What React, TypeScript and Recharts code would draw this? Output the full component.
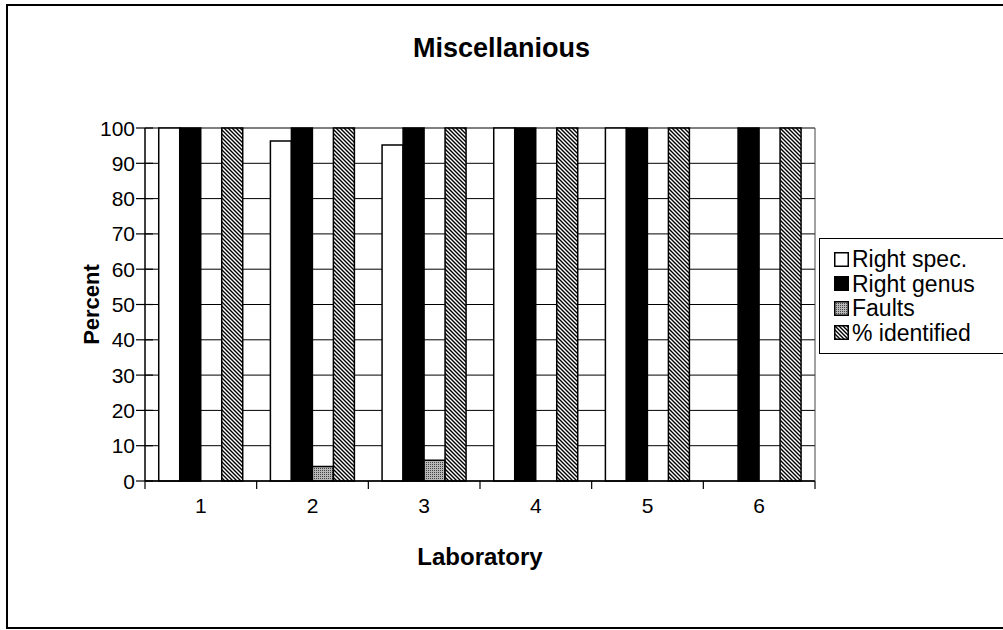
import { BarChart, Bar, XAxis, YAxis, CartesianGrid, Legend } from "recharts";

const labs = ["1", "2", "3", "4", "5", "6"];
const rightSpec = [100, 96.3, 95.2, 100, 100, 0];
const rightGenus = [100, 100, 100, 100, 100, 100];
const faults = [0, 4.1, 5.9, 0, 0, 0];
const identified = [100, 100, 100, 100, 100, 100];
const yTicks = [0, 10, 20, 30, 40, 50, 60, 70, 80, 90, 100];

const data = labs.map((lab, i) => ({
  lab,
  spec: rightSpec[i],
  genus: rightGenus[i],
  faults: faults[i],
  identified: identified[i],
}));

const FONT = "'Liberation Sans', Arial, sans-serif";
const PLOT_W = 670;
const BAND = PLOT_W / labs.length;

const legendItems = [
  { name: "Right spec.", fill: "#fff" },
  { name: "Right genus", fill: "#000" },
  { name: "Faults", fill: "url(#stipple)" },
  { name: "% identified", fill: "url(#hatch)" },
];

function YTick({ x, y, payload }: any) {
  return (
    <g>
      <line x1={x - 9} x2={x + 8} y1={y} y2={y} stroke="#000" strokeWidth={1.2} />
      <text x={x - 10} y={y} dy={7.5} textAnchor="end" fontSize={21} fontFamily={FONT} fill="#000">
        {payload.value}
      </text>
    </g>
  );
}

function XTick({ x, y, payload, index }: any) {
  return (
    <g>
      <line x1={x - BAND / 2} x2={x - BAND / 2} y1={y} y2={y + 8} stroke="#000" strokeWidth={1.2} />
      {index === labs.length - 1 && (
        <line x1={x + BAND / 2} x2={x + BAND / 2} y1={y} y2={y + 8} stroke="#000" strokeWidth={1.2} />
      )}
      <text x={x} y={y + 32} textAnchor="middle" fontSize={21} fontFamily={FONT} fill="#000">
        {payload.value}
      </text>
    </g>
  );
}

function renderLegend() {
  return (
    <div
      style={{
        border: "1px solid #000",
        padding: "8px 0 8px 14px",
        fontFamily: FONT,
        fontSize: 23,
        lineHeight: "24.5px",
        background: "#fff",
      }}
    >
      {legendItems.map((it) => (
        <div key={it.name} style={{ display: "flex", alignItems: "center", whiteSpace: "nowrap" }}>
          <svg width={15} height={15} style={{ marginRight: 3 }}>
            <rect x={0.75} y={0.75} width={13.5} height={13.5} fill={it.fill} stroke="#000" strokeWidth={1.5} />
          </svg>
          {it.name}
        </div>
      ))}
    </div>
  );
}

export default function App() {
  return (
    <div
      style={{
        position: "absolute",
        left: 0,
        top: 0,
        width: 1003,
        height: 630,
        overflow: "hidden",
        background: "#fff",
      }}
    >
      <div
        style={{
          position: "absolute",
          left: 6,
          top: 4,
          width: 1100,
          height: 621,
          border: "2px solid #000",
        }}
      />
      <div
        style={{
          position: "absolute",
          left: 0,
          top: 33,
          width: 1003,
          textAlign: "center",
          fontFamily: FONT,
          fontWeight: "bold",
          fontSize: 27,
        }}
      >
        Miscellanious
      </div>
      <div style={{ position: "absolute", left: 0, top: 0 }}>
        <BarChart
          width={1003}
          height={630}
          data={data}
          margin={{ top: 128, right: 187, bottom: 0, left: 85 }}
          barCategoryGap="12.3%"
          barGap={0}
        >
          <defs>
            <pattern id="hatch" patternUnits="userSpaceOnUse" width={4} height={4}>
              <rect width={4} height={4} fill="#fff" />
              <path d="M-1,-1 L5,5 M-1,3 L1,5 M3,-1 L5,1" stroke="#000" strokeWidth={1.4} />
            </pattern>
            <pattern id="stipple" patternUnits="userSpaceOnUse" width={2} height={2}>
              <rect width={2} height={2} fill="#b8b8b8" />
              <rect width={1} height={1} fill="#444" />
            </pattern>
          </defs>
          <CartesianGrid vertical={false} stroke="#000" strokeWidth={1} />
          <XAxis
            dataKey="lab"
            height={149}
            tickLine={false}
            tickSize={0}
            tickMargin={0}
            axisLine={{ stroke: "#000", strokeWidth: 1.5 }}
            tick={<XTick />}
            interval={0}
            label={{
              content: ({ viewBox }: any) => (
                <text
                  x={viewBox.x + viewBox.width / 2}
                  y={viewBox.y + 84}
                  textAnchor="middle"
                  fontSize={24}
                  fontWeight="bold"
                  fontFamily={FONT}
                  fill="#000"
                >
                  Laboratory
                </text>
              ),
            }}
          />
          <YAxis
            width={60}
            domain={[0, 100]}
            ticks={yTicks}
            interval={0}
            tickLine={false}
            tickSize={0}
            tickMargin={0}
            axisLine={{ stroke: "#000", strokeWidth: 1.5 }}
            tick={<YTick />}
            label={{
              content: ({ viewBox }: any) => (
                <text
                  x={viewBox.x + 6}
                  y={viewBox.y + viewBox.height / 2}
                  transform={`rotate(-90 ${viewBox.x + 6} ${viewBox.y + viewBox.height / 2})`}
                  textAnchor="middle"
                  dominantBaseline="central"
                  fontSize={22}
                  fontWeight="bold"
                  fontFamily={FONT}
                  fill="#000"
                >
                  Percent
                </text>
              ),
            }}
          />
          <YAxis
            yAxisId="edge"
            orientation="right"
            width={1}
            domain={[0, 100]}
            tick={false}
            tickLine={false}
            axisLine={{ stroke: "#444", strokeWidth: 1 }}
          />
          <Legend
            layout="vertical"
            align="center"
            verticalAlign="middle"
            content={renderLegend}
            wrapperStyle={{ position: "absolute", left: 819, top: 238, width: 240 }}
          />
          <Bar dataKey="spec" name="Right spec." fill="#fff" stroke="#000" strokeWidth={1.5} isAnimationActive={false} />
          <Bar dataKey="genus" name="Right genus" fill="#000" stroke="#000" strokeWidth={1.5} isAnimationActive={false} />
          <Bar dataKey="faults" name="Faults" fill="url(#stipple)" stroke="#000" strokeWidth={1.5} isAnimationActive={false} />
          <Bar dataKey="identified" name="% identified" fill="url(#hatch)" stroke="#000" strokeWidth={1.5} isAnimationActive={false} />
        </BarChart>
      </div>
    </div>
  );
}
